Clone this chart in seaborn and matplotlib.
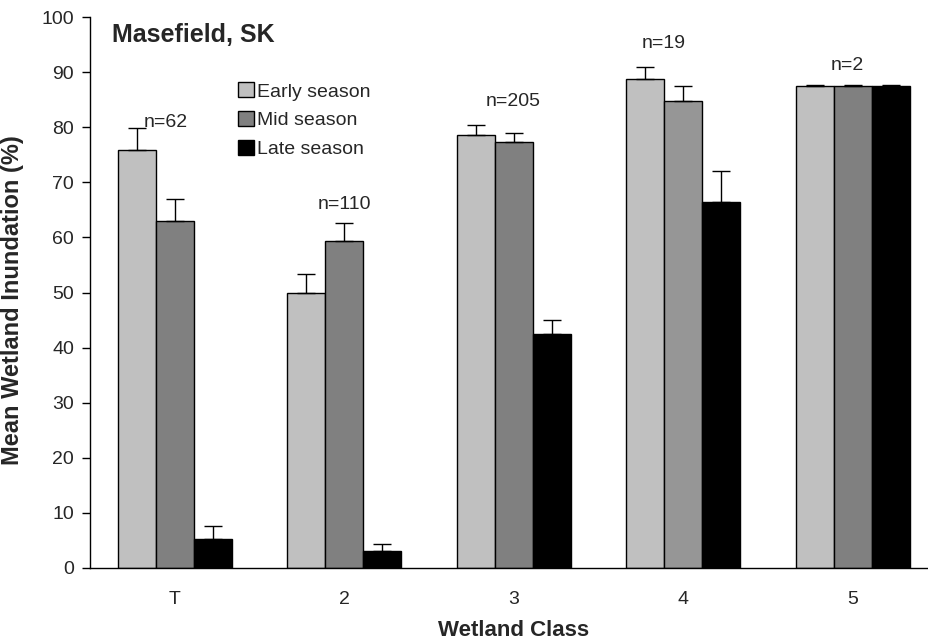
import matplotlib
matplotlib.use("Agg")
import matplotlib.pyplot as plt
import seaborn as sns
import pandas as pd
import numpy as np

categories = ["T", "2", "3", "4", "5"]
seasons = ["Early season", "Mid season", "Late season"]
early = [75.9, 50.0, 78.6, 88.7, 87.5]
mid = [63.0, 59.4, 77.4, 84.8, 87.5]
late = [5.2, 3.1, 42.4, 66.4, 87.5]
early_err = [3.9, 3.4, 1.8, 2.3, 0.1]
mid_err = [3.9, 3.2, 1.5, 2.6, 0.1]
late_err = [2.4, 1.3, 2.6, 5.6, 0.1]
n_labels = ["n=62", "n=110", "n=205", "n=19", "n=2"]
n_label_y = [80.8, 66.0, 84.6, 95.2, 91.2]
n_label_dx = [-0.053, 0.0, -0.006, -0.115, -0.03]

values = [early, mid, late]
errors = [early_err, mid_err, late_err]

rows = []
for s, vals in zip(seasons, values):
    for c, v in zip(categories, vals):
        rows.append({"Wetland Class": c, "Season": s, "Value": v})
df = pd.DataFrame(rows)

sns.set_style("white")
plt.rcParams["font.family"] = ["Liberation Sans", "DejaVu Sans"]

fig = plt.figure(figsize=(9.29, 6.43), dpi=100)
ax = fig.add_axes([90 / 929, 1 - 568 / 643, 847.5 / 929, 551 / 643])

palette = {"Early season": "#C0C0C0", "Mid season": "#808080", "Late season": "#000000"}
sns.barplot(data=df, x="Wetland Class", y="Value", hue="Season", order=categories,
            hue_order=seasons, palette=palette, width=0.67, edgecolor="black",
            linewidth=1.0, saturation=1, ax=ax, errorbar=None)

bar_containers = list(ax.containers)
# the class-4 mid-season bar is a lighter grey in the reference
bar_containers[1].patches[3].set_facecolor("#969696")
for ci, cont in enumerate(bar_containers):
    for pi, p in enumerate(cont.patches):
        xc = p.get_x() + p.get_width() / 2
        h = p.get_height()
        ax.errorbar([xc], [h], yerr=[[0], [errors[ci][pi]]], fmt="none",
                    ecolor="black", elinewidth=1.0, capsize=6.5, capthick=1.0, zorder=3)

for i, (lab, yv) in enumerate(zip(n_labels, n_label_y)):
    ax.text(i + n_label_dx[i], yv, lab, ha="center", va="center", fontsize=14)

ax.set_xlim(-0.5, 4.5)
ax.set_ylim(0, 100)
ax.set_yticks(range(0, 101, 10))
ax.tick_params(axis="y", which="both", direction="out", length=5.5, width=1, left=True,
               labelsize=14, color="black", pad=6)
ax.tick_params(axis="x", length=0, labelsize=14, pad=16.5)
for side in ["top", "right"]:
    ax.spines[side].set_visible(False)
for side in ["left", "bottom"]:
    ax.spines[side].set_color("black")
    ax.spines[side].set_linewidth(1.0)

ax.set_xlabel("Wetland Class", fontsize=16, fontweight="bold", labelpad=9)
ax.set_ylabel("Mean Wetland Inundation (%)", fontsize=17, fontweight="bold")
ax.yaxis.set_label_coords(-0.078, 0.486)

ax.text(0.026, 0.967, "Masefield, SK", transform=ax.transAxes, fontsize=18,
        fontweight="bold", ha="left", va="center")

leg = ax.legend(loc="upper left", bbox_to_anchor=(0.1746, 0.8815), frameon=False,
                fontsize=14, handlelength=0.82, handleheight=0.82, handletextpad=0.15,
                labelspacing=0.53, borderaxespad=0, borderpad=0)

fig.savefig("out.png", dpi=100)
